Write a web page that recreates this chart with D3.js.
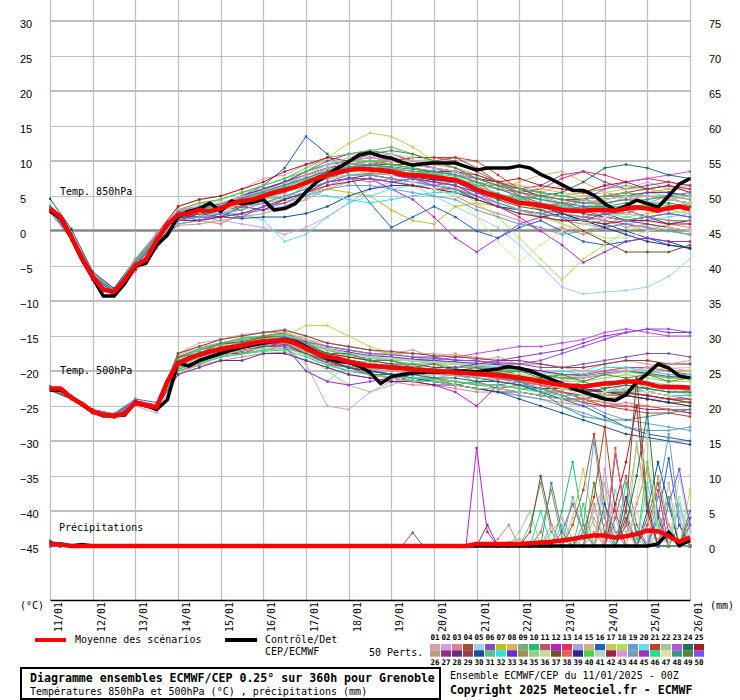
<!DOCTYPE html>
<html><head><meta charset="utf-8">
<script src="https://cdn.jsdelivr.net/npm/d3@7"></script>
<style>body{margin:0;background:#fff}svg{display:block}</style>
</head><body>
<script>
// ---------- DATA ----------
const dateLabels = ["11/01","12/01","13/01","14/01","15/01","16/01","17/01","18/01","19/01","20/01","21/01","22/01","23/01","24/01","25/01","26/01"];
const leftTicks = [30,25,20,15,10,5,0,-5,-10,-15,-20,-25,-30,-35,-40,-45];
const rightTicks = [75,70,65,60,55,50,45,40,35,30,25,20,15,10,5,0];
const memberColors = ["#d4a0a8","#d0a0e0","#e08088","#a05030","#a0d0f0","#8050b0","#c0c020","#e0b060","#70b070","#20c070","#c05070","#c020c0","#e03060","#a0a8e0","#d0b080","#2060c0","#c8c860","#b0e050","#60a0d0","#60e0e8","#c04020","#a0c8a0","#c050e0","#207060","#b01820",
"#c09a80","#903080","#603080","#904050","#1a5090","#60c090","#30e0e0","#6030d0","#a09050","#90d090","#c0e090","#705030","#e06060","#302880","#50d040","#b0d8c0","#a02040","#e090d0","#70a0c0","#a030c0","#20e090","#e0e0a0","#409090","#508840","#8050e8"];

// 6-hourly (0..360h) mean and control
const t850Mean = [3.2,2.0,-0.8,-3.9,-6.5,-8.4,-8.7,-7.0,-4.9,-4.1,-1.3,0.9,2.3,2.5,3.0,2.8,3.2,3.9,4.3,4.5,5.0,5.5,5.9,6.3,6.9,7.5,8.0,8.4,8.7,8.9,8.8,8.7,8.5,8.1,8.0,7.9,7.7,7.5,7.3,6.7,5.9,5.4,5.0,4.5,4.0,3.9,3.6,3.4,3.0,2.9,2.9,3.0,3.0,2.9,3.2,3.4,3.2,2.9,3.3,3.5,3.1];
const t850Ctrl = [2.8,1.8,-1.0,-4.1,-6.7,-9.3,-9.3,-7.5,-5.0,-4.6,-2.0,-0.6,2.0,2.8,3.2,4.0,2.8,4.3,3.9,4.1,4.5,3.0,3.2,3.9,5.6,7.0,8.0,9.0,9.9,10.9,11.2,10.7,10.4,9.8,9.4,9.6,9.7,9.7,9.7,9.2,8.7,9.0,9.0,9.0,9.3,9.0,8.1,7.4,6.6,5.8,5.8,5.1,3.9,3.0,3.6,4.4,3.9,3.4,5.0,6.7,7.5];
const t500Mean = [-22.5,-22.5,-23.8,-24.7,-25.8,-26.3,-26.4,-26.1,-24.5,-24.9,-25.2,-21.5,-18.9,-18.2,-17.7,-17.2,-16.9,-16.6,-16.4,-16.0,-15.8,-15.7,-15.6,-16.0,-16.8,-17.5,-18.0,-18.2,-18.7,-19.0,-19.3,-19.4,-19.5,-19.6,-19.8,-19.9,-20.0,-20.1,-20.2,-20.3,-20.4,-20.5,-20.6,-20.8,-21.0,-21.2,-21.5,-21.8,-22.0,-22.1,-22.2,-22.0,-21.8,-21.7,-21.5,-21.5,-21.8,-22.2,-22.3,-22.3,-22.4];
const t500Ctrl = [-22.7,-22.7,-23.8,-24.8,-25.8,-26.4,-26.4,-26.3,-24.4,-24.9,-25.5,-24.1,-18.8,-19.3,-18.5,-18.0,-17.5,-17.0,-16.6,-16.3,-16.0,-15.8,-15.5,-15.8,-16.5,-17.4,-18.2,-18.6,-18.8,-19.3,-20.2,-21.8,-20.8,-20.5,-20.3,-20.2,-20.1,-20.2,-20.0,-20.0,-20.1,-19.9,-19.7,-19.4,-19.6,-20.0,-20.6,-21.2,-21.8,-22.5,-23.0,-23.5,-24.0,-24.2,-23.4,-21.6,-20.4,-19.0,-19.6,-20.7,-21.0];
const precipMean = [0.3,0.2,0,0,0,0,0,0,0,0,0,0,0,0,0,0,0,0,0,0,0,0,0,0,0,0,0,0,0,0,0,0,0,0,0,0,0,0,0,0,0.3,0.3,0.3,0.3,0.3,0.4,0.5,0.6,0.8,1.0,1.3,1.5,1.5,1.2,1.4,1.7,2.2,2.1,1.4,0.6,1.2];
const precipCtrl = [0.4,0.3,0,0.2,0,0,0,0,0,0,0,0,0,0,0,0,0,0,0,0,0,0,0,0,0,0,0,0,0,0,0,0,0,0,0,0,0,0,0,0,0,0,0,0,0,0,0,0,0,0,0,0,0,0,0,0,0,0.3,2.0,0.1,0.8];

// 12-hourly (0..360h) perturbed members, Temp 850hPa
const t850Members = [
[3.6,-0.4,-6,-8.2,-4,-0.3,3.5,4.5,5,6,7.5,8,9.5,10,11,10.5,11,10,9.5,9,8,7,6.5,5.5,6.5,5.5,6.5,6,7,6,6.5],
[3,-1,-6.8,-9,-5.5,-2,1.5,2,1.5,1,0.5,-0.5,0.5,2,4,6,7,7.5,7,6.5,5.5,4.5,3,2,1.5,2,3,2.5,2,1.5,1],
[3,-1.2,-7,-9.3,-5.8,-2.5,1,1.5,1,2.5,3,3.5,5,6.5,7.5,7,7.5,6.5,6,5,3.5,2.5,1.5,0,0.5,-0.5,0.5,1,0,1,0.5],
[2.8,-1.2,-7,-9.2,-5.5,-1.8,2,2.5,3,4,4.5,5.5,6.5,7.5,8.5,9.5,9.5,9.5,10,10.5,9,7,5,4,3.5,3,2,1.5,2,2.5,2],
[3,-1,-6.5,-8.6,-5,-1.5,2,3,3.5,4.5,5,6,7,7.5,8,8,7.5,6.5,5,3.5,2,0.5,-2,-5,-8,-9,-8.7,-8.5,-8,-6.5,-4],
[3.4,-0.7,-6.3,-8.5,-4.2,-0.5,3,3.5,3.5,5,6,7,8.5,10,11,11.5,11,10,9,8,7.5,7,6,6.5,8,8.5,7,6,6.5,7,6.5],
[3.1,-0.9,-6.6,-8.9,-5.2,-1.5,2,2.5,2.5,3.5,4,4.5,5.5,6,5.5,5,3,1.5,1,3.5,4,3.5,3,2.5,1,0,1,2,2.5,3,2.5],
[3.3,-0.7,-6.4,-8.7,-4.6,-1,2.5,3,3,4.5,5,6,7,8,8.5,9,9,8.5,8,7.5,6.5,6,7,8,8.5,7,5.5,5,5.5,6,6],
[3.6,-0.3,-6,-8.3,-4,-0.5,3,4,4.5,5.5,6.5,7.5,9,10.5,11,11.5,12,11,10,9,8,7,6,5.5,5,5.5,6,6.5,6,5.5,5],
[3,-1,-6.6,-8.9,-5,-1.2,2.3,2,3.5,3,5,4.5,6.5,7.5,9,8,9,8,8.5,7,6.5,4.5,5,3,4,2.5,3.5,2.5,4,3,3.5],
[3.2,-0.8,-6.5,-8.8,-5,-1.5,2,3,3.5,4,5,6,7,8,9,9.5,10,10.5,10.5,10,8.5,7,5.5,4.5,4,4.5,5,5.5,5,4.5,4],
[3.1,-0.9,-6.7,-9,-5.3,-2,1.5,2.5,3,3.5,4,5,6,7,7.5,7.5,6,4.5,2,-1,-3,-1,1,2,2.5,2,1.5,1,0.5,0,-0.5],
[3.4,-0.6,-6.3,-8.6,-4.5,-1,2.7,3.3,3.7,4.8,5.8,7,8,9,9.5,9.5,9,8.5,8.5,8,7,6,5.5,6,7.5,8.5,8,7,7.5,7,6.5],
[3,-1,-6.7,-8.9,-5.2,-1.8,1.8,2.5,2.5,3.5,4,5,6,7,8,8,7.5,7,7,6.5,5,4,3,2,1.5,1,0.5,1,1.5,1,1.5],
[3.2,-0.8,-6.5,-8.7,-4.8,-1.2,3,4,3.5,5,5.5,7,8,9.5,10.5,11,10.5,10,9.5,9,8,7,6,5.5,5,5.5,4.5,5,5.5,5,4.5],
[3.2,-0.8,-6.4,-8.7,-4.8,-1.2,2.4,3.2,3.5,5,6.5,9,13.5,11,8,4,0.5,2,3.5,2,0,-1,0.5,1.5,0,-1.5,-2,-1.5,-1,-2,-2.5],
[3.3,-0.7,-6.4,-8.7,-4.7,-1,2.5,3.2,3.5,4.5,5.5,7,8.5,10.5,12.5,14,13.5,12,10,9,8,7,6.5,6,5.5,5,5.5,6,6,5.5,5],
[3,-1,-6.6,-8.9,-5,-1.4,2.2,2.8,3,4,5,6,7,8,9,9.5,9,8,7,6,4,2,-1,-4,-7,-4,-2,0,1,0,-0.5],
[3.2,-0.8,-6.5,-8.8,-5.5,-2,1,1.5,2,2.5,3,4,5,6,6.5,6.5,6,5.5,5,4.5,3,2,1,0.5,-0.5,0,0.5,1,0.5,0,-0.5],
[3.1,-0.9,-6.7,-9,-5.2,-1.6,2,2.5,2.5,2.5,1.5,-1.5,-0.5,2,4,5,6,6.5,6.5,6,5,4,3,2.5,2,2,2.5,2,1.5,2,2.5],
[3.3,-0.7,-6.4,-8.6,-4.6,-1.1,2.6,3.2,3.5,4.8,5.8,7,8,9,9.5,10,10,10.5,10.5,10.5,10,8,6,5,4.5,4,4.5,5,5,4.5,4],
[3.2,-0.8,-6.5,-8.7,-4.9,-1.3,2.8,3.5,4.5,5.5,6,7,8,8.5,9.5,10,9.5,9,8.5,8,7,6,5,4.5,3.5,4,3.5,3,4,3.5,3],
[3.4,-0.5,-6.2,-8.5,-4.4,-0.7,2.8,3.5,3.8,5,6,7,8,9,9.5,9.5,9,8,7.5,7,5.5,4,3,2.5,3,4.5,6,7,7.5,8,8.5],
[3,-1,-6.8,-9.1,-5.4,-1.8,1.8,2.5,2.8,4,4.8,5.8,6.8,8,8.5,8.7,8.5,8,7.5,7,6,5,4.5,5,5.5,7,9,9.5,9,8,7.5],
[3.2,-0.8,-6.5,-8.8,-4.2,-0.5,3.5,4.5,5,6,7,8.5,9.5,10.5,10,11,10,9.5,9,8.5,7.5,7,7.5,6.5,6,5.5,6.5,7,6,6.5,5.5],
[3.1,-0.9,-6.6,-8.8,-5.5,-2.2,0.8,1,1.5,2,2.5,3.5,4.5,6,7,7.5,7,6.5,6,5.5,4.5,3.5,2.5,2,1.5,1,1.5,0.5,1,0.5,0],
[3.3,-0.7,-6.3,-8.6,-4.5,-1,2.6,3.2,3.5,4.5,5.5,6.5,7.5,8.5,9,9,8.5,8,7.5,7,6,5,4,3.5,3,2.5,2,1.5,1,0.5,0],
[3,-1,-6.7,-9,-5.5,-1.7,1.5,2.5,2,3.5,3,4.5,5.5,7,7.5,8,7.5,7,6.5,6,5,4,3,2,2.5,1.5,2.5,1.5,2,1,1.5],
[3.4,-0.6,-6.3,-8.5,-4.4,-0.8,2.7,3.4,3.8,5,6,7,8,9,9.5,10,9.5,9,8.5,8.5,8,7,6,5,4.5,4.5,5,5.5,6,6.5,6],
[4.6,0.3,-5.8,-8.2,-4.2,-0.8,2,2,2,1.8,2,2,2.5,3.5,5,6,6.5,6.5,6,5.5,4.5,3.5,3,2.5,2,1.5,1,0,-1,-1.5,-2.5],
[3.2,-0.8,-6.5,-8.7,-4.9,-1.3,2.3,3.5,3.3,5,5.3,7,7.3,9,9,10,8.7,9,8,8.5,6.5,6.5,4.5,5,3.5,4.5,3.5,5,4,5,3.5],
[3,-1,-6.7,-8.9,-5.1,-1.5,2.1,2.6,2.8,3.8,4.5,5,5.5,5,4.5,4,4.5,5,5.5,5.5,5,4,3,2.5,2,1.5,2,2.5,2,2.5,3],
[3.4,-0.6,-6.3,-8.5,-4.4,-0.8,2.7,3.4,3.6,5,6,7,8.5,9.5,10,10.5,10,9.5,9,8.5,7.5,6.5,6,5.5,5,4.5,5,5,5.5,5.5,5],
[3.1,-0.9,-6.6,-8.8,-5,-1.5,2.1,2.8,3,4,4.7,5.6,6.5,7.5,8,8.2,8,7.5,7,7,6,5,4,3,2.5,2,2.5,2.5,2,1.5,1.5],
[3.3,-0.7,-6.4,-8.6,-4.6,-1,2.6,3.2,3.4,4.6,5.4,6.4,7.4,8.6,9.4,10,10,9.5,9,8.5,7,6,5,4.5,4,3.5,4,4.5,4.5,5,5],
[3,-1,-6.7,-8.9,-5.1,-1.6,2,2.6,2.8,3.8,4.5,5.5,6.5,7.5,8,8.5,8,7.5,7,6.5,5,4,3,2,1,0,-1,-1,0,0.5,0],
[3.2,-0.8,-6.5,-8.7,-4.9,-1.3,2.3,3,3.2,4.2,5,5.8,6.8,7.8,8.5,8.5,8,7.5,7,6.5,5.5,4.5,3.5,3,2,0,-1.5,-3,-3,-3,-2],
[3.3,-0.7,-6.4,-8.6,-4.7,-1.1,2.5,2.5,3.5,3.5,5,5.5,7,7.5,9,8.5,9,8,8.5,7,7,5,5,3.5,4,3,4,2.5,3.5,3,4],
[3.1,-0.9,-6.6,-8.8,-5,-1.4,2.2,2.9,3.1,4.1,4.8,5.8,6.8,7.8,8.5,8.5,8.2,7.7,7.3,7,6,5,4,3.5,2.5,1.5,0.5,-0.5,-1.5,-2,-2.4],
[3.2,-0.8,-6.5,-8.7,-4,-0.8,3,4,4.5,5.5,6.5,7.5,8.5,9.5,10,10,9.5,9,8.5,8,7,6.5,6,5.5,5,4.5,5,5.5,5,5,4.5],
[3.4,-0.6,-6.3,-8.5,-4.4,-0.8,2.8,3.4,3.7,4.9,5.8,6.8,8,9.5,10.5,11,11,10.5,10,9,7.5,6.5,5.5,5,4.5,4,4.5,5,5,4.5,4],
[3,-1,-6.7,-8.9,-5.5,-2,1.5,1.5,2,2.5,3.5,4.5,5.5,6.5,7,7.5,7,6.5,6,6,4.5,3.5,2.5,2,1.5,1.5,1,1.5,1.5,1,1],
[3.3,-0.7,-6.4,-8.6,-4.2,-0.5,3,3.5,4,5,5.5,6.5,8,9,10,10.5,10,9.5,9,8.5,7.5,6.5,5.5,5,4,4.5,4,4.5,5,4.5,5],
[3.1,-0.9,-6.6,-8.8,-5.2,-1.8,1.5,2,2.5,3,4,5,6,7,8,8,7.5,7,6.5,6,5,4,3,2.5,2,1.5,2,1.5,2,2.5,2],
[3.2,-0.8,-6.5,-8.7,-4.9,-1.3,2.3,3,3.2,4.3,5,6,7,8,8.5,8.5,8,7.5,7,6.5,5,3.5,2,0,-2,-4.5,-3,-1.5,-1,-1.5,-1.5],
[3.3,-0.7,-6.4,-8.6,-4.7,-1.1,2.5,3.1,3.4,4.5,5.3,6.3,7.3,8.3,9,9.2,9,8.5,8.2,7.8,6.4,5.4,4.4,4,3.4,3.3,3.4,3.6,3.6,3.7,3.5],
[3,-1,-6.7,-8.9,-5.1,-1.6,2,2.7,3,4,4.8,5.8,6.8,7.8,8.5,8.5,8,7,6,5,2,-1.5,-4.5,-2,0,1,2,2.5,2,2.5,3],
[3.4,-0.6,-6.3,-8.5,-4.4,-0.8,2.7,3.3,3.6,4.7,5.6,6.6,7.6,8.6,9.2,9.4,9.2,8.8,8.5,8,7,6,5,4.5,4,3.5,3.5,4,4.5,5,5.5],
[3.2,-0.8,-6.5,-8.7,-4.9,-1.3,2.3,3,3.2,4.3,5,6,7,8.5,10,11,11.5,11,10,9,7.5,6.5,5.5,5,4.5,4,4,4.5,4,4,3.5],
[3.1,-0.9,-6.6,-8.8,-5,-1.4,2.2,1.5,2.5,2,3.5,4,5.5,7,7.5,7.5,7,7.5,6.5,7,5.5,5,4,4,3,3.5,2.5,3,2,2.5,2]
];

// 12-hourly perturbed members, Temp 500hPa
const t500Members = [
[-22.3,-23.6,-25.5,-26.2,-24.2,-24.8,-17.5,-16,-15.5,-14.8,-14.5,-14,-15,-16,-16.5,-17,-17.5,-17,-18,-17.5,-18.5,-18,-19,-19,-19.5,-20,-19,-18.5,-19,-19.5,-20],
[-22.8,-24,-26,-26.7,-25,-26,-20.5,-19,-18,-17.5,-17,-16.5,-19,-25,-25.5,-23,-21.5,-21,-21,-21.5,-22,-22.5,-23,-23.5,-24,-24.5,-24,-23.5,-24,-24,-24.5],
[-22.4,-23.7,-25.7,-26.3,-24.8,-25.6,-20,-19.2,-18.5,-18,-17.5,-17.3,-18.5,-19.5,-20.5,-21,-21.5,-22,-22,-22.5,-23,-23,-23.5,-24,-24.5,-25,-25,-24.5,-25,-25.5,-26],
[-22.6,-23.9,-25.9,-26.5,-24.6,-25.3,-19.5,-18.5,-17.5,-17.5,-16.5,-16.5,-17.5,-19,-19.5,-20.5,-20.5,-21.5,-21,-22,-21.5,-22.5,-22,-23,-23,-24,-23,-22.5,-23,-23.5,-23.5],
[-22.5,-23.8,-25.8,-26.4,-24.5,-25.2,-18.5,-17,-16.5,-15.5,-15.2,-14.8,-16,-17,-18,-18.5,-18.5,-19,-19,-19.5,-19.5,-20,-20.5,-21,-21,-21.5,-21,-20.5,-21,-21.5,-21.5],
[-22.2,-23.5,-25.5,-26.1,-24,-24.5,-18,-16.8,-16,-15.5,-15,-14.5,-15.5,-16.5,-17,-17.5,-17.5,-18,-18,-18.5,-18.5,-19,-19,-19.5,-19.5,-19,-18.5,-18,-17.5,-17.5,-18],
[-22.7,-24,-26,-26.6,-24.8,-25.5,-19.2,-18,-17.2,-16.7,-16,-16,-17,-18.5,-19.5,-20,-20.5,-21,-21.5,-21.5,-22,-22,-22.5,-23,-24,-24.5,-24,-23.5,-24,-24.5,-25],
[-22.4,-23.7,-25.7,-26.3,-24.3,-24.9,-17.8,-16.5,-16,-15.2,-15,-14.5,-15.5,-16.5,-17,-17.5,-18,-18.5,-18.5,-19,-19,-19.5,-20,-20,-20.5,-20.5,-20,-19.5,-19.5,-20,-20],
[-22.6,-23.9,-25.9,-26.5,-24.6,-25.3,-20,-19,-18,-17.5,-17,-16.8,-17.5,-18.5,-19.5,-20,-20.5,-21,-21,-21.5,-22,-22,-22.5,-22.5,-23,-23.5,-23,-22.5,-22.5,-23,-23],
[-22.5,-23.8,-25.8,-26.4,-24.5,-25.2,-18.9,-17.2,-17.5,-16,-16.5,-15,-17,-17.5,-19,-18.5,-20,-19,-20.5,-19.5,-21,-20,-21.5,-21,-22.5,-21.5,-22.5,-21,-22.5,-22,-23],
[-22.3,-23.6,-25.6,-26.2,-24.3,-25,-18,-17,-16,-15.5,-15,-14.6,-15.8,-17,-17.5,-18,-18.3,-18.6,-18.8,-19,-19.3,-19.5,-19.5,-20,-20.5,-20.5,-20,-19.5,-19.5,-20,-20.5],
[-22.7,-24,-26,-26.6,-24.8,-25.5,-19.3,-18,-17.2,-16.8,-16.2,-16,-17.5,-19,-20,-20.5,-21,-21.5,-22,-23,-25,-22,-21.5,-22,-23,-23.5,-23,-22.5,-23,-23.5,-24],
[-22.4,-23.7,-25.7,-26.3,-24.4,-25.1,-19.8,-18.5,-17.8,-17.2,-16.5,-16.5,-17.5,-18.8,-19.5,-20.5,-21,-21.5,-21.5,-22,-22.5,-22.5,-23,-23.5,-24,-24,-23.5,-23,-23.5,-24,-24.5],
[-22.6,-23.9,-25.9,-26.5,-24.6,-25.3,-19,-18,-17.5,-16.5,-16.5,-15.5,-17.5,-18.5,-19.5,-19.5,-20.5,-20,-21,-20.5,-21.5,-21,-22,-21.5,-22.5,-22,-23,-22,-23,-22.5,-23.5],
[-22.5,-23.8,-25.8,-26.4,-24.5,-25.2,-17.5,-16.5,-15.5,-15,-14.5,-14.5,-15.5,-16.5,-17,-17.5,-17.5,-17.5,-17.5,-17.8,-18,-18.5,-19,-19,-19.5,-19.5,-19,-18.5,-18.5,-19,-19],
[-22.5,-23.8,-25.8,-26.4,-24.5,-25.2,-18.9,-17.7,-16.9,-16.4,-15.8,-15.6,-16.8,-18,-18.7,-19.3,-19.5,-19.8,-20,-20.5,-21,-21.5,-22,-23,-24,-25,-26.5,-28,-29,-29.5,-30],
[-22.3,-23.6,-25.6,-26.2,-24.3,-24.9,-18.5,-17.3,-16.5,-16,-15.3,-15,-15.5,-16,-16.5,-17,-17.5,-18,-18.5,-18.8,-19,-19.5,-20,-20.5,-21,-21,-20.5,-20,-20,-20.5,-21],
[-22.6,-23.9,-25.9,-26.5,-24.7,-25.4,-19.1,-17.9,-17.1,-16.6,-16,-15,-13.5,-13.5,-15,-16.5,-17.5,-18,-18.5,-19,-19.5,-20,-20.5,-21,-21.5,-21.5,-21,-20.5,-21,-21.5,-21.5],
[-22.4,-23.7,-25.7,-26.3,-24.4,-25.1,-18.8,-17.6,-16.8,-16.3,-15.7,-15.5,-16.7,-18,-19,-19.8,-20.5,-21,-21.5,-22,-22.5,-23,-23.5,-24,-25,-26,-27,-28,-28.5,-28.5,-28],
[-22.5,-23.8,-25.8,-26.4,-24.5,-25.2,-18.9,-17.7,-16.9,-16.4,-15.8,-16,-20,-21.5,-19,-18.5,-19,-19.5,-19.8,-20,-20.2,-20.5,-21,-21.5,-22,-22,-21.5,-21.2,-21.5,-22,-22.2],
[-22.6,-23.9,-25.9,-26.5,-24.6,-25.3,-19,-17.8,-17,-16.5,-15.9,-15.7,-16.9,-18.1,-18.8,-19.4,-19.6,-19.9,-20.1,-20.3,-20.5,-21,-21.5,-22,-23,-24,-25,-25.5,-26,-26,-26.5],
[-22.4,-23.7,-25.7,-26.3,-24.4,-25.1,-18.8,-17.6,-16.8,-16.3,-15.7,-15.7,-17.5,-20,-22,-23,-22,-21,-20.5,-20.5,-20.7,-21,-21.5,-22,-22.5,-23,-22.5,-22,-22.5,-23,-23],
[-22.5,-23.8,-25.8,-26.4,-24.5,-25.2,-18.9,-17.7,-16.9,-16.4,-15.8,-15.5,-16.5,-17.5,-18,-18.5,-18.5,-18.5,-18.5,-18,-17.5,-17,-16.5,-16.5,-16,-15.5,-14.5,-14,-14.5,-15,-15],
[-22.3,-23.6,-25.6,-26.2,-24.3,-24.9,-19.5,-18.5,-17.5,-17,-16.5,-16.2,-17.5,-18.5,-19.5,-20,-20.5,-20.5,-21,-21,-21.5,-21.5,-22,-22.5,-22.5,-23,-22.5,-22,-22.5,-23,-23],
[-22.7,-24,-26,-26.6,-24.8,-25.5,-18.2,-17,-16.2,-15.8,-15.2,-15,-16.2,-17.5,-18,-18.5,-19,-19,-19.5,-19.5,-19.5,-20,-20,-20.5,-21,-21,-20.5,-20,-20.5,-21,-21],
[-22.4,-23.7,-25.6,-26.5,-24.6,-25.3,-18.6,-17.5,-16.6,-16.2,-15.9,-15.9,-17.2,-18.4,-19.3,-19.7,-20,-20.2,-20.5,-20.7,-21,-21.2,-21.4,-21.8,-22.2,-22.4,-22,-21.7,-22,-22.5,-22.8],
[-22.6,-23.9,-25.9,-26.5,-24.6,-25.3,-19,-17.8,-17,-16.5,-15.9,-15.7,-16.9,-18.1,-18.8,-19.4,-19.6,-19.9,-20.1,-20.3,-20.6,-21,-21.5,-22.5,-23.5,-24.5,-25,-25,-25.5,-25.5,-26],
[-22.4,-23.7,-25.7,-26.3,-24.4,-25.1,-20.5,-19.5,-18.5,-18.5,-17.5,-17.5,-18.5,-19.5,-20.5,-21,-21.5,-21.5,-22,-22,-22.5,-23,-23,-23.5,-24,-24,-23.5,-23.5,-24,-24.5,-24.5],
[-22.5,-23.8,-25.8,-26.4,-24.5,-25.2,-17.5,-16.5,-15.5,-15,-14.5,-14.2,-15,-16,-16.5,-17,-17.2,-17.5,-17.8,-18,-18.2,-18.5,-18.5,-19,-19.5,-19.5,-19,-18.5,-18.5,-19,-19],
[-22.3,-23.6,-25.6,-26.2,-24.3,-24.9,-18.6,-17.4,-16.6,-16.1,-15.5,-15.6,-17,-18.5,-19.5,-20,-20.5,-21,-21.5,-22,-22.5,-23,-24,-25,-26,-27,-28,-29,-29.5,-30,-30.5],
[-22.6,-23.9,-25.9,-26.5,-24.6,-25.3,-19,-17.8,-17,-16.5,-15.9,-15.7,-16.9,-18.1,-18.8,-19.4,-19.6,-19.9,-20.1,-20.3,-20.5,-20.7,-21.1,-21.6,-22.1,-22.3,-21.9,-21.6,-21.9,-22.4,-22.5],
[-22.4,-23.7,-25.7,-26.3,-24.4,-25.1,-18.2,-17,-16,-15.5,-15,-15,-15.8,-17,-17.5,-18,-18.5,-18.5,-19,-19,-19.5,-19.5,-20,-20.5,-20,-20.5,-19.5,-19.5,-20,-20.5,-20.5],
[-22.5,-23.8,-25.8,-26.4,-24.5,-25.2,-18.9,-17.7,-16.9,-16.4,-15.8,-15.3,-16,-16.8,-17.3,-17.8,-18,-18.3,-18.5,-18.7,-18.9,-19.1,-19.5,-20,-20.5,-20.7,-20.3,-20,-20.3,-20.8,-20.9],
[-22.6,-23.9,-25.9,-26.5,-24.6,-25.3,-19,-17.8,-17,-16.5,-15.9,-15.7,-16.9,-18.1,-18.8,-19.4,-19.6,-19.9,-20.1,-20.3,-20.6,-21,-21.5,-22,-22.5,-23,-23.5,-23.5,-24,-24.5,-24.5],
[-22.4,-23.7,-25.7,-26.3,-24.4,-25.1,-19.5,-18.2,-17.8,-17,-16.8,-16.5,-17.8,-19,-20,-20.5,-21,-21.5,-21.5,-22,-22.5,-22.5,-23,-23.5,-24,-24,-23.5,-23,-23.5,-24,-24],
[-22.5,-23.8,-25.8,-26.4,-24.5,-25.2,-18.9,-17.7,-16.9,-16.4,-15.8,-15.5,-16.2,-17,-17.5,-18,-18.2,-18.5,-18.7,-18.9,-19.1,-19.3,-19.7,-20.2,-20.7,-20.9,-20.5,-20.2,-20.5,-21,-21.1],
[-22.3,-23.6,-25.6,-26.2,-24.3,-24.9,-18.6,-17.4,-16.6,-16.1,-15.5,-15.3,-16.5,-17.7,-18.4,-19,-19.2,-19.5,-19.7,-19.9,-20.1,-20.3,-20.7,-21.2,-21.7,-22.5,-23,-23,-23.5,-24,-24.5],
[-22.6,-23.9,-25.9,-26.5,-24.6,-25.3,-19,-17.8,-17,-16.5,-15.9,-15.7,-16.9,-18.1,-18.8,-19.4,-19.6,-19.9,-20.1,-20.3,-20.5,-21,-21.5,-22,-23,-24,-24.5,-25,-25,-25.5,-25.5],
[-22.4,-23.7,-25.7,-26.3,-24.4,-25.1,-18.8,-17.6,-16.8,-16.3,-15.7,-15.5,-16.7,-17.9,-18.6,-19.2,-19.4,-19.7,-19.9,-20.1,-20.3,-20.5,-20.9,-21.4,-21.9,-22.5,-23,-23.5,-24,-24.5,-25],
[-22.6,-23.7,-25.9,-26.3,-24.6,-25.1,-18.2,-16.8,-16.2,-15.3,-15,-14.7,-16,-17,-17.8,-18.2,-18.6,-19,-19,-19.5,-19.5,-20,-20,-20.5,-21,-21,-20.5,-20,-20.5,-21,-21],
[-22.3,-23.6,-25.6,-26.2,-24.3,-24.9,-18.6,-17.4,-16.6,-16.1,-15.5,-15.3,-16,-16.8,-17.5,-18,-18.3,-18.6,-18.8,-19,-19.2,-19.4,-19.8,-20.2,-20.6,-20.8,-20.4,-20,-19.8,-19.6,-19.5],
[-22.6,-23.9,-25.9,-26.5,-24.6,-25.3,-19,-17.8,-17,-16.5,-15.9,-15.7,-16.9,-18.1,-18.8,-19.4,-19.6,-19.9,-20.1,-20.3,-20.5,-20.7,-21.1,-21.6,-22.1,-22.8,-23,-23.2,-23.5,-24,-24],
[-22.4,-23.7,-25.7,-26.3,-24.4,-25.1,-18.8,-17.6,-16.8,-16.3,-15.7,-15.5,-16.7,-17.9,-18.6,-19.2,-19.4,-19.7,-19.9,-20.1,-20.3,-20.5,-20.9,-21.4,-21.4,-21,-20.5,-20,-19.5,-19,-18.5],
[-22.5,-23.8,-25.8,-26.4,-24.5,-25.2,-18.9,-17.7,-16.9,-16.4,-15.8,-15.6,-16.8,-18,-18.7,-19.3,-19.5,-19.8,-20,-20.2,-20.4,-20.8,-21.5,-22.5,-23.5,-24.5,-26,-27,-27.5,-28,-28.5],
[-22.6,-23.9,-25.9,-26.5,-24.6,-25.3,-19,-17.8,-17,-16.5,-15.9,-16.5,-20,-21.5,-22,-21.5,-21,-20.5,-20,-19.5,-19,-18.5,-18,-17.5,-17,-16,-15,-14.5,-14,-14.5,-14.5],
[-22.4,-23.7,-25.7,-26.3,-24.4,-25.1,-19.8,-18.8,-18,-17.6,-17.2,-17,-18,-19.2,-20,-20.5,-20.8,-21,-21.2,-21.5,-21.8,-22,-22.5,-23,-23.5,-23.5,-23,-22.8,-23,-23.5,-23.5],
[-22.5,-23.8,-25.8,-26.4,-24.5,-25.2,-18.9,-17.7,-16.9,-16.4,-15.8,-15.6,-16.8,-18,-18.7,-19.3,-19.5,-19.8,-20,-20.2,-20.4,-20.6,-21,-21.5,-22.5,-23.5,-23,-22.5,-23,-23.5,-23.8],
[-22.3,-23.6,-25.6,-26.2,-24.3,-24.9,-18.6,-17.4,-16.6,-16.1,-15.5,-15.3,-16.5,-17.7,-18.4,-19,-19.2,-19.5,-19.7,-19.9,-20.1,-20.5,-21.5,-23,-25,-26.5,-27,-27,-26.5,-26,-25.5],
[-22.6,-23.9,-25.9,-26.5,-24.6,-25.3,-18,-17.5,-16,-16,-15,-15.2,-16,-17.5,-17.5,-18.5,-18.5,-19.5,-19,-20,-19.5,-20.5,-20,-21,-20.5,-21.5,-20.5,-21,-20.5,-21.5,-21],
[-22.4,-23.7,-25.7,-26.3,-24.4,-25.1,-18.8,-17.6,-16.8,-16.3,-15.7,-15.2,-15.8,-16.5,-17,-17.5,-17.7,-18,-18.2,-18.4,-18.6,-18.8,-19,-18.5,-17.5,-16.5,-15.5,-14.5,-14,-14,-14.5]
];

// 6-hourly perturbed members, precipitation (mm)
const precipMembers = [
[0.6,0,0,0,0,0,0,0,0,0,0,0,0,0,0,0,0,0,0,0,0,0,0,0,0,0,0,0,0,0,0,0,0,0,0,0,0,0,0,0,0,0,0,0.5,1,0,0,2,4,1,0,0,3,6,2,0,0,1,3,0,0],
[0,0,0,0,0,0,0,0,0,0,0,0,0,0,0,0,0,0,0,0,0,0,0,0,0,0,0,0,0,0,0,0,0,0,0,0,0,0,0,0,0,0,0,0,0,0,0,0,0,0,1,5,9,4,0,0,0,0,2,5,1],
[0.4,0,0,0,0,0,0,0,0,0,0,0,0,0,0,0,0,0,0,0,0,0,0,0,0,0,0,0,0,0,0,0,0,0,0,0,0,0,0,0,0,0,1,3,0,0,0,0,0,0,0,2,0,0,0,6,11,3,0,0,0],
[0,0,0,0,0,0,0,0,0,0,0,0,0,0,0,0,0,0,0,0,0,0,0,0,0,0,0,0,0,0,0,0,0,0,0,0,0,0,0,0,0,0,0,0,0,0,0,0,0,3,8,16,6,0,0,0,4,9,2,0,0],
[0.3,0,0,0,0,0,0,0,0,0,0,0,0,0,0,0,0,0,0,0,0,0,0,0,0,0,0,0,0,0,0,0,0,0,0,0,0,0,0,0,0,0,0,0,0,0,2,0,0,0,0,0,0,0,0,0,0,0,0,0,0],
[0,0,0,0,0,0,0,0,0,0,0,0,0,0,0,0,0,0,0,0,0,0,0,0,0,0,0,0,0,0,0,0,0,0,1.9,0,0,0,0,0,0,0,0,0,0,0,0,0,2,6,2,0,0,13,5,0,0,0,0,3,0],
[0.8,0,0,0,0,0,0,0,0,0,0,0,0,0,0,0,0,0,0,0,0,0,0,0,0,0,0,0,0,0,0,0,0,0,0,0,0,0,0,0,0,0,0,0,0,0,0,0,0,0,0,0,0,0,0,0,0,0,0,0,0],
[0,0,0,0,0,0,0,0,0,0,0,0,0,0,0,0,0,0,0,0,0,0,0,0,0,0,0,0,0,0,0,0,0,0,0,0,0,0,0,0,0,0,0,0,0,0,0,0,0,0,0,0,0,0,5,14,7,0,0,0,0],
[0.5,0,0,0,0,0,0,0,0,0,0,0,0,0,0,0,0,0,0,0,0,0,0,0,0,0,0,0,0,0,0,0,0,0,0,0,0,0,0,0,0,0,0,0,0,3,9,2,0,0,0,0,0,0,0,0,0,0,0,0,0],
[0,0,0,0,0,0,0,0,0,0,0,0,0,0,0,0,0,0,0,0,0,0,0,0,0,0,0,0,0,0,0,0,0,0,0,0,0,0,0,0,0,0,0,0,0,0,0,0,5,12,3,0,0,0,0,0,0,2,7,0,0],
[0.4,0,0,0,0,0,0,0,0,0,0,0,0,0,0,0,0,0,0,0,0,0,0,0,0,0,0,0,0,0,0,0,0,0,0,0,0,0,0,0,0,0,0,0,0,0,0,0,0,0,0,0,0,4,10,3,0,0,0,0,0],
[0,0,0,0,0,0,0,0,0,0,0,0,0,0,0,0,0,0,0,0,0,0,0,0,0,0,0,0,0,0,0,0,0,0,0,0,0,0,0,0,14,2,0,0,0,0,0,0,0,0,0,0,0,0,0,0,0,0,0,0,0],
[0.7,0,0,0,0,0,0,0,0,0,0,0,0,0,0,0,0,0,0,0,0,0,0,0,0,0,0,0,0,0,0,0,0,0,0,0,0,0,0,0,0,0,0,0,0,0,0,0,0,0,0,0,0,0,0,0,3,8,0,0,0],
[0,0,0,0,0,0,0,0,0,0,0,0,0,0,0,0,0,0,0,0,0,0,0,0,0,0,0,0,0,0,0,0,0,0,0,0,0,0,0,0,0,0,0,0,0,0,0,0,0,0,0,4,1,0,0,0,0,0,0,6,2],
[0,0,0,0,0,0,0,0,0,0,0,0,0,0,0,0,0,0,0,0,0,0,0,0,0,0,0,0,0,0,0,0,0,0,0,0,0,0,0,0,0,0,0,0,0,0,0,0,0,0,0,0,5,2,0,0,0,0,9,0,0],
[0.3,0,0,0,0,0,0,0,0,0,0,0,0,0,0,0,0,0,0,0,0,0,0,0,0,0,0,0,0,0,0,0,0,0,0,0,0,0,0,0,0,0,0,0,0,0,0,0,0,0,0,0,6,2,0,0,0,4,12.5,3,0],
[0,0,0,0,0,0,0,0,0,0,0,0,0,0,0,0,0,0,0,0,0,0,0,0,0,0,0,0,0,0,0,0,0,0,0,0,0,0,0,0,0,0,0,0,0,0,0,0,0,4,11,3,0,0,0,0,0,0,0,0,0],
[0.5,0,0,0,0,0,0,0,0,0,0,0,0,0,0,0,0,0,0,0,0,0,0,0,0,0,0,0,0,0,0,0,0,0,0,0,0,0,0,0,0,0,0,0,0,0,0,0,0,0,0,0,0,0,0,0,0,0,0,0,8],
[0,0,0,0,0,0,0,0,0,0,0,0,0,0,0,0,0,0,0,0,0,0,0,0,0,0,0,0,0,0,0,0,0,0,0,0,0,0,0,0,0,0,0,0,0,0,0,0,0,0,3,15,4,0,0,0,0,0,0,0,0],
[0,0,0,0,0,0,0,0,0,0,0,0,0,0,0,0,0,0,0,0,0,0,0,0,0,0,0,0,0,0,0,0,0,0,0,0,0,0,0,0,0,0,0,0,0,0,0,0,0,0,0,0,0,8,3,0,0,0,0,6,0],
[0.6,0,0,0,0,0,0,0,0,0,0,0,0,0,0,0,0,0,0,0,0,0,0,0,0,0,0,0,0,0,0,0,0,0,0,0,0,0,0,0,0,0,0,0,0,0,0,0,0,0,2,7,17,5,0,0,0,0,0,0,0],
[0,0,0,0,0,0,0,0,0,0,0,0,0,0,0,0,0,0,0,0,0,0,0,0,0,0,0,0,0,0,0,0,0,0,0,0,0,0,0,0,0,0,0,0,0,0,0,0,0,0,0,0,0,0,0,15,4,0,0,0,0],
[0,0,0,0,0,0,0,0,0,0,0,0,0,0,0,0,0,0,0,0,0,0,0,0,0,0,0,0,0,0,0,0,0,0,0,0,0,0,0,0,0,0,0,0,0,0,0,0,0,0,0,0,0,0,0,0,0,5,0,0,0],
[0.4,0,0,0,0,0,0,0,0,0,0,0,0,0,0,0,0,0,0,0,0,0,0,0,0,0,0,0,0,0,0,0,0,0,0,0,0,0,0,0,0,0,0,0,0,0,0,0,0,0,0,0,0,0,3,10,19,4,0,0,0],
[0,0,0,0,0,0,0,0,0,0,0,0,0,0,0,0,0,0,0,0,0,0,0,0,0,0,0,0,0,0,0,0,0,0,0,0,0,0,0,0,0,0,0,0,0,0,0,0,0,0,0,0,0,6,12,20,5,0,0,0,0],
[0,0,0,0,0,0,0,0,0,0,0,0,0,0,0,0,0,0,0,0,0,0,0,0,0,0,0,0,0,0,0,0,0,0,0,0,0,0,0,0,0,0,0,0,0,0,0,0,0,0,0,6,0,0,0,0,0,10,3,0,0],
[0.5,0,0,0,0,0,0,0,0,0,0,0,0,0,0,0,0,0,0,0,0,0,0,0,0,0,0,0,0,0,0,0,0,0,0,0,0,0,0,0,0,3,0,0,0,0,0,0,0,0,0,0,0,0,0,0,0,0,0,0,4],
[0,0,0,0,0,0,0,0,0,0,0,0,0,0,0,0,0,0,0,0,0,0,0,0,0,0,0,0,0,0,0,0,0,0,0,0,0,0,0,0,0,0,0,0,0,0,0,0,0,0,0,0,0,0,7,2,0,0,0,0,3],
[0,0,0,0,0,0,0,0,0,0,0,0,0,0,0,0,0,0,0,0,0,0,0,0,0,0,0,0,0,0,0,0,0,0,0,0,0,0,0,0,0,0,0,0,0,0,0,0,0,0,0,0,0,0,4,0,0,0,0,0,0],
[0.3,0,0,0,0,0,0,0,0,0,0,0,0,0,0,0,0,0,0,0,0,0,0,0,0,0,0,0,0,0,0,0,0,0,0,0,0,0,0,0,0,0,0,0,0,0,0,0,0,0,0,0,0,0,0,0,5,12,6,0,0],
[0,0,0,0,0,0,0,0,0,0,0,0,0,0,0,0,0,0,0,0,0,0,0,0,0,0,0,0,0,0,0,0,0,0,0,0,0,0,0,0,0,0,0,0,0,0,0,0,0,7,2,0,0,0,0,0,0,0,0,0,0],
[0,0,0,0,0,0,0,0,0,0,0,0,0,0,0,0,0,0,0,0,0,0,0,0,0,0,0,0,0,0,0,0,0,0,0,0,0,0,0,0,0,0,0,0,0,0,0,0,3,0,0,0,0,0,0,0,9,2,0,0,0],
[0.6,0,0,0,0,0,0,0,0,0,0,0,0,0,0,0,0,0,0,0,0,0,0,0,0,0,0,0,0,0,0,0,0,0,0,0,0,0,0,0,0,0,0,0,0,0,0,0,0,0,0,0,0,0,0,0,0,0,0,0,0],
[0,0,0,0,0,0,0,0,0,0,0,0,0,0,0,0,0,0,0,0,0,0,0,0,0,0,0,0,0,0,0,0,0,0,0,0,0,0,0,0,0,0,0,0,0,0,2,8,1,0,0,0,0,0,0,0,0,0,0,0,0],
[0,0,0,0,0,0,0,0,0,0,0,0,0,0,0,0,0,0,0,0,0,0,0,0,0,0,0,0,0,0,0,0,0,0,0,0,0,0,0,0,0,0,0,0,2,5,0,0,0,0,0,0,9,0,0,0,0,0,0,0,0],
[0.4,0,0,0,0,0,0,0,0,0,0,0,0,0,0,0,0,0,0,0,0,0,0,0,0,0,0,0,0,0,0,0,0,0,0,0,0,0,0,0,0,0,0,0,0,0,0,0,0,0,0,0,0,0,0,0,0,0,0,7,0],
[0,0,0,0,0,0,0,0,0,0,0,0,0,0,0,0,0,0,0,0,0,0,0,0,0,0,0,0,0,0,0,0,0,0,0,0,0,0,0,0,0,0,0,0,0,2,10,3,0,0,0,0,0,0,5,24,6,0,0,0,0],
[0,0,0,0,0,0,0,0,0,0,0,0,0,0,0,0,0,0,0,0,0,0,0,0,0,0,0,0,0,0,0,0,0,0,0,0,0,0,0,0,0,0,0,0,0,0,0,0,0,0,0,0,0,14,3,0,0,0,0,0,0],
[0.3,0,0,0,0,0,0,0,0,0,0,0,0,0,0,0,0,0,0,0,0,0,0,0,0,0,0,0,0,0,0,0,0,0,0,0,0,0,0,0,0,0,0,0,0,0,0,0,0,0,0,0,0,0,0,0,0,0,0,0,0],
[0,0,0,0,0,0,0,0,0,0,0,0,0,0,0,0,0,0,0,0,0,0,0,0,0,0,0,0,0,0,0,0,0,0,0,0,0,0,0,0,0,0,0,0,0,0,0,0,0,0,6,0,0,0,0,0,12,3,0,0,0],
[0,0,0,0,0,0,0,0,0,0,0,0,0,0,0,0,0,0,0,0,0,0,0,0,0,0,0,0,0,0,0,0,0,0,0,0,0,0,0,0,0,0,0,0,0,0,0,0,0,0,0,0,0,0,0,5,0,0,0,10,2],
[0.5,0,0,0,0,0,0,0,0,0,0,0,0,0,0,0,0,0,0,0,0,0,0,0,0,0,0,0,0,0,0,0,0,0,0,0,0,0,0,0,0,0,0,0,0,0,0,0,0,0,0,0,0,0,0,0,0,0,0,0,0],
[0,0,0,0,0,0,0,0,0,0,0,0,0,0,0,0,0,0,0,0,0,0,0,0,0,0,0,0,0,0,0,0,0,0,0,0,0,0,0,0,0,0,0,0,0,0,0,3,0,0,0,0,11,2,0,0,0,0,0,0,0],
[0,0,0,0,0,0,0,0,0,0,0,0,0,0,0,0,0,0,0,0,0,0,0,0,0,0,0,0,0,0,0,0,0,0,0,0,0,0,0,0,0,0,0,0,0,0,0,0,0,0,0,0,0,0,0,0,0,7,16,4,0],
[0.4,0,0,0,0,0,0,0,0,0,0,0,0,0,0,0,0,0,0,0,0,0,0,0,0,0,0,0,0,0,0,0,0,0,0,0,0,0,0,0,0,0,0,0,0,0,0,0,0,0,0,0,0,0,0,0,0,0,0,0,0],
[0,0,0,0,0,0,0,0,0,0,0,0,0,0,0,0,0,0,0,0,0,0,0,0,0,0,0,0,0,0,0,0,0,0,0,0,0,0,0,0,0,0,0,0,0,0,5,0,0,0,0,0,0,0,9,1,0,0,0,0,0],
[0,0,0,0,0,0,0,0,0,0,0,0,0,0,0,0,0,0,0,0,0,0,0,0,0,0,0,0,0,0,0,0,0,0,0,0,0,0,0,0,0,0,0,0,0,0,0,0,0,0,0,0,0,0,0,7,16,2,0,0,0],
[0.5,0,0,0,0,0,0,0,0,0,0,0,0,0,0,0,0,0,0,0,0,0,0,0,0,0,0,0,0,0,0,0,0,0,0,0,0,0,0,0,0,0,0,0,0,0,0,9,2,0,0,0,0,0,0,0,0,0,0,0,0],
[0,0,0,0,0,0,0,0,0,0,0,0,0,0,0,0,0,0,0,0,0,0,0,0,0,0,0,0,0,0,0,0,0,0,0,0,0,0,0,0,0,0,0,0,0,0,0,0,0,0,0,9,2,0,0,0,0,0,0,0,5],
[0,0,0,0,0,0,0,0,0,0,0,0,0,0,0,0,0,0,0,0,0,0,0,0,0,0,0,0,0,0,0,0,0,0,0,0,0,0,0,0,0,0,0,0,0,0,0,0,0,0,0,0,0,0,0,0,0,0,6,11,3]
];

// ---------- CHART ----------
const MONO = "'DejaVu Sans Mono', 'Liberation Mono', monospace";
const SANS = "'Liberation Sans', Arial, sans-serif";
const svg = d3.select("body").append("svg").attr("width",740).attr("height",700);
const hours6 = d3.range(0, 361, 6);
const hours12 = d3.range(0, 361, 12);
const dayHours = dateLabels.map((_, i) => i * 24);
const x = d3.scaleLinear().domain([0, 360]).range([50, 690]);
const yT = d3.scaleLinear().domain([30, -45]).range([21, 546]);
const yP = d3.scaleLinear().domain([75, 0]).range([21, 546]);

svg.append("defs").append("clipPath").attr("id","plotclip")
  .append("rect").attr("x",49).attr("y",0).attr("width",643).attr("height",600);

// grid
const grid = svg.append("g");
grid.selectAll("line.v").data(dayHours).join("line").attr("class","v")
  .attr("x1", d => Math.round(x(d)) + 0.5).attr("x2", d => Math.round(x(d)) + 0.5)
  .attr("y1", 0).attr("y2", 600).attr("stroke", "#c0c0c0").attr("stroke-width", 1.3);
grid.selectAll("line.h").data(leftTicks).join("line").attr("class","h")
  .attr("x1", 50).attr("x2", 691)
  .attr("y1", d => d === 0 ? yT(d) - 0.5 : (d % 10 === 0 ? yT(d) : yT(d) + 0.5))
  .attr("y2", d => d === 0 ? yT(d) - 0.5 : (d % 10 === 0 ? yT(d) : yT(d) + 0.5))
  .attr("stroke", d => d === 0 ? "#a8a8a8" : "#c0c0c0")
  .attr("stroke-width", d => d === 0 ? 3 : (d % 10 === 0 ? 2 : 1));
grid.append("line").attr("x1",50).attr("x2",691).attr("y1",yT(0)-0.5).attr("y2",yT(0)-0.5)
  .attr("stroke","#858585").attr("stroke-width",1);

// axes
const gL = svg.append("g").attr("transform","translate(20,0)")
  .call(d3.axisLeft(yT).tickValues(leftTicks).tickSize(0).tickPadding(0));
gL.select(".domain").remove();
gL.attr("font-family", SANS).attr("font-size", 11);
gL.selectAll("text").attr("x", 0).attr("dy", "0.55em").attr("text-anchor","start").attr("fill","#000");

const gR = svg.append("g").attr("transform","translate(709,0)")
  .call(d3.axisRight(yP).tickValues(rightTicks).tickSize(0).tickPadding(0));
gR.select(".domain").remove();
gR.attr("font-family", SANS).attr("font-size", 11);
gR.selectAll("text").attr("x", 0).attr("dy", "0.55em").attr("text-anchor","start").attr("fill","#000");

const gB = svg.append("g").attr("transform","translate(0,600)")
  .call(d3.axisBottom(x).tickValues(dayHours).tickFormat((d,i) => dateLabels[i]).tickSize(0).tickSizeOuter(0));
gB.select(".domain").attr("stroke","#000").attr("stroke-width",1.5);
gB.attr("font-family", MONO).attr("font-size", 10);
gB.selectAll("text").attr("x",0).attr("y",0).attr("dy",0).attr("text-anchor","end")
  .attr("fill","#000").attr("transform","translate(11.5,2) rotate(-90)");

// plot layers
const plot = svg.append("g").attr("clip-path","url(#plotclip)");
function drawMembers(rows, hours, yS) {
  const ln = d3.line().x((d,i) => x(hours[i])).y(d => yS(d));
  rows.forEach((row, k) => {
    const g = plot.append("g");
    g.append("path").attr("d", ln(row)).attr("fill","none")
      .attr("stroke", memberColors[k]).attr("stroke-width", 1);
    g.selectAll("rect").data(row).join("rect")
      .attr("x", (d,i) => x(hours[i]) - 1.2).attr("y", d => yS(d) - 1.2)
      .attr("width", 2.4).attr("height", 2.4).attr("fill", memberColors[k]);
  });
}
drawMembers(t850Members, hours12, yT);
drawMembers(t500Members, hours12, yT);
drawMembers(precipMembers, hours6, yP);

function drawMain(vals, yS, color, w) {
  const ln = d3.line().x((d,i) => x(hours6[i])).y(d => yS(d));
  plot.append("path").attr("d", ln(vals)).attr("fill","none").attr("stroke", color)
    .attr("stroke-width", w).attr("stroke-linejoin","round").attr("stroke-linecap","butt");
}
drawMain(t850Ctrl, yT, "#000", 3.5);
drawMain(t500Ctrl, yT, "#000", 3.5);
drawMain(precipCtrl, yP, "#000", 3.5);
drawMain(t850Mean, yT, "#ff0000", 4.5);
drawMain(t500Mean, yT, "#ff0000", 4.5);
drawMain(precipMean, yP, "#ff0000", 4.5);

// labels inside plot
function txt(xp, yp, s, size, weight, fam) {
  return svg.append("text").attr("x", xp).attr("y", yp).attr("font-family", fam || MONO)
    .attr("font-size", size).attr("font-weight", weight || "normal").attr("fill","#000").text(s);
}
txt(60, 195, "Temp. 850hPa", 10);
txt(60, 374, "Temp. 500hPa", 10);
txt(59, 531, "Précipitations", 10);
txt(20, 609, "(°C)", 10);
txt(710, 609, "(mm)", 10);

// legend
svg.append("rect").attr("x",35).attr("y",638).attr("width",31).attr("height",4).attr("fill","#ff0000");
txt(75, 642.5, "Moyenne des scénarios", 10);
svg.append("rect").attr("x",225).attr("y",638).attr("width",32).attr("height",4).attr("fill","#000");
txt(265, 642.5, "Contrôle/Det", 10);
txt(265, 654.5, "CEP/ECMWF", 10);
txt(369, 655.5, "50 Perts.", 10);

const sw = svg.append("g");
sw.selectAll("rect").data(memberColors).join("rect")
  .attr("x", (d,k) => 430 + (k % 25) * 11).attr("y", (d,k) => k < 25 ? 644 : 650.3)
  .attr("width", 10).attr("height", 6.4).attr("fill", d => d);
sw.selectAll("text").data(memberColors).join("text")
  .attr("x", (d,k) => 435 + (k % 25) * 11).attr("y", (d,k) => k < 25 ? 640 : 664.7)
  .attr("text-anchor","middle").attr("font-family", MONO).attr("font-size", 7.6)
  .attr("font-weight","bold").attr("fill","#000")
  .text((d,k) => String(k + 1).padStart(2, "0"));

// bottom captions
svg.append("rect").attr("x",21).attr("y",668).attr("width",419).attr("height",31)
  .attr("fill","none").attr("stroke","#000").attr("stroke-width",2);
txt(30, 681.5, "Diagramme ensembles ECMWF/CEP 0.25° sur 360h pour Grenoble", 11.6, "bold");
txt(30, 694.5, "Températures 850hPa et 500hPa (°C) , précipitations (mm)", 10);
txt(450, 679, "Ensemble ECMWF/CEP du 11/01/2025 - 00Z", 10);
txt(450, 694, "Copyright 2025 Meteociel.fr - ECMWF", 11.5, "bold");

// data length sanity check (visible only if something is wrong)
const bad = [];
[[t850Members,31,"a"],[t500Members,31,"b"],[precipMembers,61,"c"]].forEach(([arr,n,t]) =>
  arr.forEach((r,k) => { if (r.length !== n) bad.push(t + (k+1) + ":" + r.length); }));
[t850Mean,t850Ctrl,t500Mean,t500Ctrl,precipMean,precipCtrl].forEach((r,k) => { if (r.length !== 61) bad.push("m" + k + ":" + r.length); });
if (bad.length) txt(260, 12, "LEN " + bad.join(" "), 9).attr("fill","red");
</script>
</body></html>
